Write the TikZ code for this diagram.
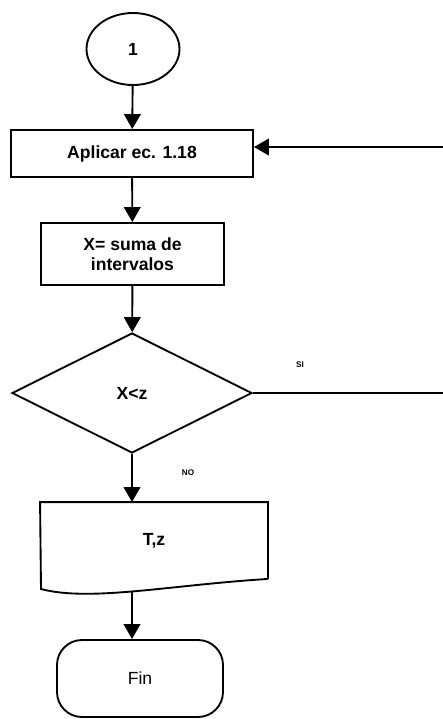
\documentclass[tikz,border=0pt]{standalone}
\usepackage{fontspec}
\setmainfont{Liberation Sans}
\usepackage{tikz}
\usetikzlibrary{shapes.geometric, arrows.meta, positioning}

\begin{document}
\begin{tikzpicture}[x=0.03cm, y=-0.03cm, line width=1.6pt]
        \tikzstyle{every node} = [font=\fontsize{15}{17}\selectfont\bfseries, inner sep=0pt]
        \tikzstyle{startnode} = [ellipse, draw, minimum width=2.79cm, minimum height=2.16cm]
        \tikzstyle{proc} = [rectangle, draw, align=center]
        \tikzstyle{decision} = [diamond, draw, minimum width=7.2cm, minimum height=3.6cm]
        \tikzstyle{terminal} = [rectangle, draw, rounded corners=0.75cm, minimum width=4.98cm, minimum height=2.31cm]
        \tikzstyle{tag} = [font=\fontsize{7}{8}\selectfont\bfseries]
        \tikzstyle{line} = [draw, -{Triangle[length=4.5mm, width=5mm]}]

        \useasboundingbox (0,0) rectangle (443,719);
        \clip (0,0) rectangle (443,719);

        \node [startnode] (inicio) at (133,49) {1};
        \node [proc, minimum width=7.26cm, minimum height=1.41cm] (aplicar) at (132,153.5) {Aplicar ec. 1.18};
        \node [proc, minimum width=5.49cm, minimum height=1.86cm] (suma) at (132.5,254) {X= suma de\\intervalos};
        \node [decision] (cond) at (132,393) {X<z\hspace{1.2em}};
        \node [rectangle, minimum width=6.78cm, minimum height=2.25cm] (salida) at (154,540.5) {T,z};
        \node [terminal, font=\fontsize{15}{17}\selectfont] (fin) at (140,678.5) {Fin};

        % documento de salida
        \draw (salida.south east) -- (salida.north east) -- (salida.north west) -- (41,589)
              .. controls (90,602) and (170,585) .. (salida.south east);
        \coordinate (salidabot) at (132,592);
        \coordinate (retorno) at (452,147);

        \node [tag] (si) at (300,365) {SI};
        \node [tag] (no) at (188,473) {NO};

        \path [line] (inicio) -- (aplicar);
        \path [line] (aplicar) -- (suma);
        \path [line] (suma) -- (cond);
        \path [line] (cond.south) -- (cond.south |- salida.north);
        \path [line] (salidabot) -- (salidabot |- fin.north);
        \path [line] (cond.east) -- (cond.east -| retorno) -- (retorno) -- (retorno -| aplicar.east);
    \end{tikzpicture}
\end{document}
